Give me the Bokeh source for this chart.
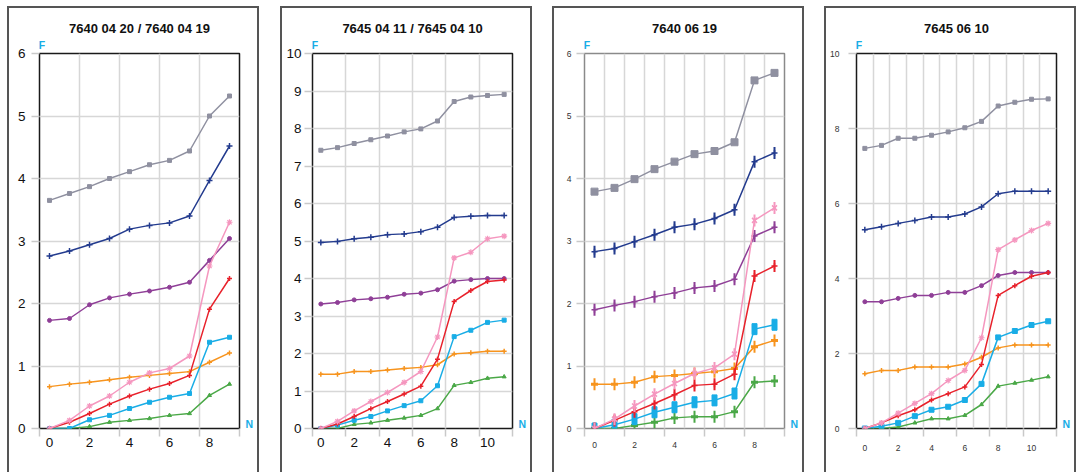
import math
from bokeh.plotting import figure
from bokeh.models import (FixedTicker, LinearAxis, CustomJSTickFormatter, Title,
                          Row, Column)
from bokeh.embed import file_html
from bokeh.resources import INLINE

# ---------------- data ----------------
titles = ["7640 04 20 / 7640 04 19", "7645 04 11 / 7645 04 10", "7640 06 19", "7645 06 10"]
n10 = [0, 1, 2, 3, 4, 5, 6, 7, 8, 9]
n12 = [0, 1, 2, 3, 4, 5, 6, 7, 8, 9, 10, 11]

p1_gray = [3.65, 3.76, 3.87, 4.00, 4.11, 4.22, 4.29, 4.44, 5.00, 5.32]
p1_navy = [2.76, 2.84, 2.94, 3.04, 3.19, 3.25, 3.29, 3.40, 3.97, 4.52]
p1_purple = [1.73, 1.76, 1.98, 2.09, 2.15, 2.20, 2.26, 2.34, 2.69, 3.04]
p1_pink = [0.00, 0.13, 0.36, 0.52, 0.74, 0.89, 0.96, 1.16, 2.60, 3.30]
p1_red = [0.00, 0.10, 0.24, 0.39, 0.52, 0.63, 0.72, 0.85, 1.91, 2.40]
p1_cyan = [0.00, 0.00, 0.14, 0.21, 0.32, 0.42, 0.50, 0.56, 1.38, 1.46]
p1_orange = [0.67, 0.71, 0.74, 0.78, 0.82, 0.85, 0.88, 0.91, 1.06, 1.21]
p1_green = [0.00, 0.00, 0.03, 0.10, 0.13, 0.16, 0.21, 0.24, 0.53, 0.71]

p2_gray = [7.42, 7.49, 7.60, 7.70, 7.80, 7.91, 7.99, 8.20, 8.72, 8.84, 8.88, 8.91]
p2_navy = [4.96, 4.99, 5.06, 5.10, 5.17, 5.19, 5.25, 5.37, 5.63, 5.66, 5.68, 5.68]
p2_purple = [3.32, 3.36, 3.43, 3.46, 3.50, 3.58, 3.61, 3.70, 3.93, 3.97, 4.00, 4.00]
p2_pink = [0.00, 0.19, 0.47, 0.72, 0.96, 1.23, 1.52, 2.44, 4.55, 4.70, 5.06, 5.13]
p2_red = [0.00, 0.12, 0.32, 0.53, 0.72, 0.92, 1.13, 1.85, 3.39, 3.68, 3.92, 3.96]
p2_cyan = [0.00, 0.09, 0.22, 0.32, 0.47, 0.61, 0.74, 1.14, 2.45, 2.62, 2.83, 2.89]
p2_orange = [1.45, 1.45, 1.52, 1.52, 1.56, 1.60, 1.63, 1.70, 1.99, 2.02, 2.06, 2.06]
p2_green = [0.00, 0.00, 0.11, 0.15, 0.22, 0.28, 0.35, 0.53, 1.15, 1.23, 1.34, 1.38]

p3_gray = [3.79, 3.85, 3.99, 4.15, 4.27, 4.39, 4.44, 4.58, 5.57, 5.69]
p3_navy = [2.83, 2.88, 2.99, 3.10, 3.22, 3.27, 3.36, 3.50, 4.27, 4.41]
p3_purple = [1.90, 1.97, 2.03, 2.11, 2.17, 2.25, 2.28, 2.39, 3.08, 3.22]
p3_pink = [0.00, 0.15, 0.36, 0.55, 0.72, 0.88, 0.97, 1.19, 3.33, 3.53]
p3_red = [0.00, 0.13, 0.27, 0.40, 0.54, 0.69, 0.71, 0.87, 2.44, 2.60]
p3_cyan = [0.00, 0.06, 0.15, 0.26, 0.34, 0.42, 0.45, 0.56, 1.59, 1.66]
p3_orange = [0.71, 0.71, 0.74, 0.83, 0.85, 0.88, 0.91, 0.96, 1.31, 1.41]
p3_green = [0.00, 0.00, 0.05, 0.10, 0.17, 0.19, 0.19, 0.27, 0.74, 0.76]

p4_gray = [7.47, 7.55, 7.74, 7.74, 7.82, 7.91, 8.02, 8.19, 8.60, 8.70, 8.78, 8.79]
p4_navy = [5.30, 5.38, 5.47, 5.55, 5.64, 5.64, 5.72, 5.91, 6.26, 6.33, 6.33, 6.33]
p4_purple = [3.38, 3.38, 3.47, 3.55, 3.55, 3.63, 3.63, 3.81, 4.08, 4.16, 4.16, 4.16]
p4_pink = [0.00, 0.15, 0.41, 0.67, 0.93, 1.28, 1.55, 2.42, 4.77, 5.03, 5.28, 5.47]
p4_red = [0.00, 0.15, 0.34, 0.50, 0.76, 0.93, 1.11, 1.71, 3.55, 3.81, 4.06, 4.16]
p4_cyan = [0.00, 0.06, 0.15, 0.33, 0.50, 0.58, 0.76, 1.19, 2.43, 2.60, 2.76, 2.86]
p4_orange = [1.46, 1.55, 1.55, 1.64, 1.64, 1.64, 1.72, 1.90, 2.15, 2.23, 2.23, 2.23]
p4_green = [0.00, 0.00, 0.04, 0.15, 0.26, 0.26, 0.35, 0.64, 1.13, 1.21, 1.29, 1.38]

series_names = ["gray", "navy", "purple", "orange", "green", "cyan", "red", "pink"]
colors = {
    "gray": "#8f90a0", "navy": "#233b8e", "purple": "#8f3f97", "pink": "#f597bf",
    "red": "#e8212b", "cyan": "#19ade6", "orange": "#f7941e", "green": "#4aa847",
}

FONT = "Liberation Sans"
W, H = 248, 464
MBL, MBR, MBT, MBB = 30, 18, 45, 44
BOX = "2px solid #555555"


def panel(title, xs, data, ymax, ystep, small, every_cat, err, frame_col,
          y_standoff, x_standoff):
    n = len(xs)
    p = figure(width=W, height=H, x_range=(-0.5, n - 0.5), y_range=(0, ymax),
               output_backend="svg", toolbar_location=None,
               min_border_left=MBL, min_border_right=MBR,
               min_border_top=MBT, min_border_bottom=MBB)
    p.background_fill_color = "white"
    p.border_fill_color = "white"
    p.outline_line_color = frame_col
    p.outline_line_width = 1.5

    fw = W - MBL - MBR
    fh = H - MBT - MBB
    ppx = fw / n
    ppy = fh / ymax

    lab_fs = "8.5px" if small else "13.5px"
    lab_col = "#333333" if small else "#111111"

    # bottom axis: labels on even categories, tick marks between categories
    xa = p.xaxis[0]
    xa.ticker = FixedTicker(ticks=[v for v in xs if v % 2 == 0],
                            minor_ticks=[v - 0.5 for v in xs if v % 2 == 0] + [n - 0.5])
    xa.axis_line_color = None
    xa.major_tick_line_color = None
    xa.major_tick_out = 8
    xa.major_tick_in = 0
    xa.minor_tick_line_color = "#c9c9c9"
    xa.minor_tick_line_width = 1.5
    xa.minor_tick_out = 8
    xa.minor_tick_in = 0
    xa.major_label_standoff = x_standoff
    xa.major_label_text_font = FONT
    xa.major_label_text_font_size = lab_fs
    xa.major_label_text_color = lab_col

    ya = p.yaxis[0]
    yt = [i * ystep for i in range(int(round(ymax / ystep)) + 1)]
    ya.ticker = FixedTicker(ticks=yt, minor_ticks=[])
    ya.axis_line_color = None
    ya.major_tick_line_color = "#c9c9c9"
    ya.major_tick_line_width = 1.5
    ya.major_tick_out = 8
    ya.major_tick_in = 0
    ya.major_label_standoff = y_standoff
    ya.major_label_text_font = FONT
    ya.major_label_text_font_size = lab_fs
    ya.major_label_text_color = lab_col

    p.xgrid.ticker = FixedTicker(ticks=[v + 0.5 for v in xs[:-1] if every_cat or v % 2 == 1])
    p.ygrid.ticker = FixedTicker(ticks=yt[1:-1])
    for g in (p.xgrid[0], p.ygrid[0]):
        g.grid_line_color = "#d7d7d7"
        g.grid_line_width = 1.5

    # "F" above the top-left corner of the plot area
    fa = LinearAxis(ticker=FixedTicker(ticks=[-0.5 + 2.4 / ppx], minor_ticks=[]),
                    formatter=CustomJSTickFormatter(code="return 'F'"),
                    axis_line_color=None, major_tick_line_color=None,
                    minor_tick_line_color=None, major_tick_out=0, major_tick_in=0,
                    major_label_standoff=3,
                    major_label_text_font=FONT, major_label_text_font_style="bold",
                    major_label_text_font_size="10.5px", major_label_text_color="#19ade6")
    p.add_layout(fa, "above")

    # "N" at the right end of the N axis
    na = LinearAxis(ticker=FixedTicker(ticks=[4.6 / ppy], minor_ticks=[]),
                    formatter=CustomJSTickFormatter(code="return 'N'"),
                    axis_line_color=None, major_tick_line_color=None,
                    minor_tick_line_color=None, major_tick_out=0, major_tick_in=0,
                    major_label_standoff=6,
                    major_label_text_font=FONT, major_label_text_font_style="bold",
                    major_label_text_font_size="10.5px", major_label_text_color="#19ade6")
    p.add_layout(na, "right")

    p.title = Title(text=title, align="center", standoff=0,
                    text_font=FONT, text_font_style="bold", text_font_size="13px",
                    text_color="#111111")

    # series
    for name in series_names:
        ys = data[name]
        c = colors[name]
        p.line(xs, ys, line_color=c, line_width=1.5)
        if not err:
            if name == "gray":
                p.scatter(xs, ys, marker="square", size=4, fill_color=c, line_color=c)
            elif name == "navy":
                p.scatter(xs, ys, marker="cross", size=6, line_color=c, line_width=1.5)
            elif name == "purple":
                p.scatter(xs, ys, marker="circle", size=4, fill_color=c, line_color=c)
            elif name == "pink":
                p.scatter(xs, ys, marker="asterisk", size=6, line_color=c, line_width=1.2)
            elif name == "red":
                p.scatter(xs, ys, marker="cross", size=5, line_color=c, line_width=1.5)
            elif name == "cyan":
                p.scatter(xs, ys, marker="square", size=5 if small else 4, fill_color=c, line_color=c)
            elif name == "orange":
                p.scatter(xs, ys, marker="cross", size=5, line_color=c, line_width=1.5)
            elif name == "green":
                p.scatter(xs, ys, marker="triangle", size=4, fill_color=c, line_color=c)
        else:
            if name == "gray":
                p.scatter(xs, ys, marker="square", size=7, fill_color=c, line_color=c)
            elif name == "cyan":
                p.rect(xs, ys, width=5, height=11, width_units="screen", height_units="screen",
                       fill_color=c, line_color=c)
            else:
                p.scatter(xs, ys, marker="dash", angle=math.pi / 2, size=12,
                          line_color=c, line_width=2)
                if name in ("navy", "red", "purple"):
                    p.scatter(xs, ys, marker="cross", size=6, line_color=c, line_width=1.5)
                elif name == "pink":
                    p.scatter(xs, ys, marker="x", size=7, line_color=c, line_width=1.5)
                elif name in ("orange", "green"):
                    p.scatter(xs, ys, marker="dash", size=7, line_color=c, line_width=3)
    return p


def pack(prefix):
    g = globals()
    return {k: g[prefix + "_" + k] for k in series_names}


f1 = panel(titles[0], n10, pack("p1"), 6, 1, False, False, False, "#1a1a1a", 6, 1)
f2 = panel(titles[1], n12, pack("p2"), 10, 1, False, False, False, "#1a1a1a", 3, 1)
f3 = panel(titles[2], n10, pack("p3"), 6, 1, True, True, True, "#8a8a8a", 5, 5)
f4 = panel(titles[3], n12, pack("p4"), 10, 2, True, True, False, "#1a1a1a", 9, 8)


def boxed(fig, left_margin):
    return Column(children=[fig], margin=(6, 0, 0, left_margin),
                  styles={"border-left": BOX, "border-top": BOX, "border-right": BOX})


layout = Row(children=[boxed(f1, 7), boxed(f2, 21), boxed(f3, 20), boxed(f4, 20)])
open("out.html", "w").write(file_html(layout, INLINE))
